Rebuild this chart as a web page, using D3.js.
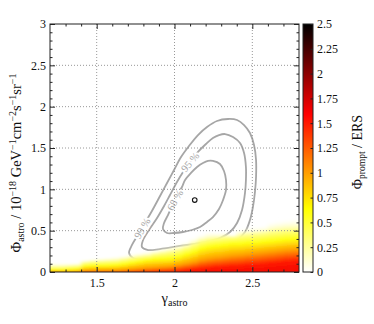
<!DOCTYPE html>
<html>
<head>
<meta charset="utf-8">
<script src="https://cdn.jsdelivr.net/npm/d3@7"></script>
<style>
  body { margin: 0; background: #fff; }
  text { font-family: "Liberation Serif", "DejaVu Serif", serif; }
</style>
</head>
<body>
<div id="chart"></div>
<script>
// ---- data ----
// heat map columns (gamma bin edges) and, for each column, the flux where Phi_prompt/ERS falls to a level
const gammaEdges = [1.2, 1.25, 1.3, 1.35, 1.4, 1.45, 1.5, 1.55, 1.6, 1.65, 1.7, 1.75, 1.8, 1.85, 1.9, 1.95,
  2.0, 2.05, 2.1, 2.15, 2.2, 2.25, 2.3, 2.35, 2.4, 2.45, 2.5, 2.55, 2.6, 2.65, 2.7, 2.75, 2.8];
const baseValue = 1.65; // value at Phi_astro = 0
const lvl150 = [0.012, 0.012, 0.012, 0.014, 0.022, 0.024, 0.024, 0.025, 0.025, 0.027, 0.028, 0.03, 0.032, 0.035, 0.038, 0.042,
  0.05, 0.06, 0.07, 0.08, 0.088, 0.095, 0.1, 0.105, 0.11, 0.12, 0.125, 0.13, 0.14, 0.15, 0.16, 0.165];
const lvl100 = [0.03, 0.03, 0.03, 0.033, 0.05, 0.052, 0.053, 0.054, 0.055, 0.06, 0.068, 0.075, 0.082, 0.088, 0.094, 0.1,
  0.115, 0.13, 0.15, 0.175, 0.19, 0.2, 0.21, 0.22, 0.23, 0.24, 0.25, 0.26, 0.27, 0.28, 0.29, 0.295];
const lvl060 = [0.055, 0.055, 0.058, 0.06, 0.09, 0.095, 0.098, 0.1, 0.105, 0.115, 0.13, 0.145, 0.16, 0.17, 0.175, 0.18,
  0.2, 0.23, 0.26, 0.3, 0.32, 0.33, 0.34, 0.35, 0.355, 0.365, 0.37, 0.38, 0.39, 0.4, 0.41, 0.415];
const lvl030 = [0.075, 0.075, 0.08, 0.085, 0.12, 0.13, 0.135, 0.14, 0.145, 0.16, 0.175, 0.19, 0.2, 0.22, 0.235, 0.25,
  0.27, 0.3, 0.34, 0.38, 0.4, 0.41, 0.42, 0.42, 0.44, 0.45, 0.46, 0.47, 0.49, 0.5, 0.51, 0.515];
const lvl000 = [0.12, 0.12, 0.12, 0.12, 0.16, 0.17, 0.18, 0.19, 0.2, 0.21, 0.23, 0.245, 0.26, 0.28, 0.3, 0.32,
  0.35, 0.38, 0.43, 0.47, 0.5, 0.49, 0.49, 0.46, 0.53, 0.55, 0.56, 0.57, 0.62, 0.64, 0.65, 0.66];

// confidence contours [gamma, Phi_astro]
const contour68 = [[2.247,1.343],[2.292,1.306],[2.318,1.222],[2.331,1.113],[2.331,0.992],[2.312,0.871],[2.286,0.762],
  [2.247,0.665],[2.209,0.605],[2.164,0.544],[2.112,0.508],[2.055,0.484],[1.997,0.472],[1.952,0.472],[1.926,0.520],
  [1.933,0.593],[1.958,0.689],[1.990,0.823],[2.023,0.944],[2.048,1.028],[2.068,1.113],[2.106,1.198],[2.145,1.270],
  [2.183,1.318],[2.215,1.343]];
const contour95 = [[2.325,1.669],[2.376,1.633],[2.421,1.560],[2.447,1.439],[2.459,1.270],[2.459,1.113],[2.453,0.956],
  [2.434,0.750],[2.402,0.593],[2.357,0.484],[2.292,0.411],[2.164,0.351],[2.035,0.315],[1.907,0.278],[1.830,0.266],
  [1.791,0.302],[1.798,0.387],[1.836,0.508],[1.888,0.653],[1.933,0.798],[1.971,0.931],[2.016,1.089],[2.055,1.210],
  [2.100,1.331],[2.151,1.452],[2.202,1.548],[2.247,1.621],[2.286,1.657]];
const contour99 = [[2.344,1.851],[2.402,1.839],[2.447,1.778],[2.485,1.681],[2.511,1.536],[2.524,1.355],[2.524,1.149],
  [2.517,0.968],[2.504,0.786],[2.485,0.629],[2.453,0.484],[2.389,0.363],[2.260,0.266],[2.100,0.206],[1.939,0.169],
  [1.810,0.157],[1.733,0.169],[1.708,0.230],[1.727,0.327],[1.765,0.448],[1.810,0.593],[1.855,0.738],[1.907,0.919],
  [1.952,1.077],[1.997,1.234],[2.042,1.391],[2.093,1.524],[2.151,1.657],[2.209,1.754],[2.273,1.827]];
const contourLabels = ["68 %", "95 %", "99 %"];
const labelPos = [[2.003, 0.87], [2.100, 1.331], [1.792, 0.53]];
const labelAngle = [-60, -50, -60];
const bestFit = [2.13, 0.87];

// ticks
const xTicks = [1.5, 2, 2.5];
const xTickLabels = ["1.5", "2", "2.5"];
const xMinor = [1.3, 1.4, 1.6, 1.7, 1.8, 1.9, 2.1, 2.2, 2.3, 2.4, 2.6, 2.7];
const yTicks = [0, 0.5, 1, 1.5, 2, 2.5, 3];
const yTickLabels = ["0", "0.5", "1", "1.5", "2", "2.5", "3"];
const yMinor = [0.1, 0.2, 0.3, 0.4, 0.6, 0.7, 0.8, 0.9, 1.1, 1.2, 1.3, 1.4, 1.6, 1.7, 1.8, 1.9, 2.1, 2.2, 2.3, 2.4, 2.6, 2.7, 2.8, 2.9];
const cTicks = [0, 0.25, 0.5, 0.75, 1, 1.25, 1.5, 1.75, 2, 2.25, 2.5];
const cTickLabels = ["0", "0.25", "0.5", "0.75", "1", "1.25", "1.5", "1.75", "2", "2.25", "2.5"];

// ---- layout ----
const width = 374, height = 324;
const plotL = 50, plotR = 299, plotT = 24, plotB = 272;
const barL = 303, barR = 313;

const x = d3.scaleLinear().domain([1.2, 2.8]).range([plotL, plotR]);
const y = d3.scaleLinear().domain([0, 3]).range([plotB, plotT]);
const cy = d3.scaleLinear().domain([0, 2.5]).range([plotB, plotT]);
// reversed "hot" colour map
const cmapDomain = [0, 0.635, 1.59, 2.5];
const color = d3.scaleLinear().domain(cmapDomain).range(["#ffffff", "#ffff00", "#ff0000", "#000000"]).clamp(true);

const svg = d3.select("#chart").append("svg").attr("width", width).attr("height", height);
const defs = svg.append("defs");
defs.append("clipPath").attr("id", "plotclip").append("rect")
  .attr("x", plotL).attr("y", plotT).attr("width", plotR - plotL).attr("height", plotB - plotT);
defs.append("filter").attr("id", "soft").attr("x", "-5%").attr("y", "-5%").attr("width", "110%").attr("height", "110%")
  .append("feGaussianBlur").attr("stdDeviation", "2.2 0.8");

const gPlot = svg.append("g").attr("clip-path", "url(#plotclip)");

// contours (drawn under the heat map)
const line = d3.line().x(d => x(d[0])).y(d => y(d[1])).curve(d3.curveCatmullRomClosed.alpha(0.5));
[contour68, contour95, contour99].forEach(c => {
  gPlot.append("path").attr("d", line(c)).attr("fill", "none")
    .attr("stroke", "#a6a6a6").attr("stroke-width", 1.8);
});
contourLabels.forEach((t, i) => {
  gPlot.append("text")
    .attr("transform", `translate(${x(labelPos[i][0])},${y(labelPos[i][1])}) rotate(${labelAngle[i]})`)
    .attr("text-anchor", "middle").attr("dy", "0.35em")
    .style("font-size", "10.5px").attr("fill", "#a6a6a6")
    .attr("stroke", "#fff").attr("stroke-width", 4).attr("paint-order", "stroke")
    .text(t);
});

// heat map columns
const levels = [1.5, 1.0, 0.6, 0.3, 0];
const lvlArrays = [lvl150, lvl100, lvl060, lvl030, lvl000];
const gHeat = gPlot.append("g").attr("filter", "url(#soft)");
const nCols = gammaEdges.length - 1;
for (let i = 0; i < nCols; i++) {
  const top = lvl000[i];
  const grad = defs.append("linearGradient").attr("id", "col" + i)
    .attr("x1", 0).attr("y1", 1).attr("x2", 0).attr("y2", 0);
  grad.append("stop").attr("offset", 0).attr("stop-color", color(baseValue));
  levels.forEach((v, k) => {
    grad.append("stop").attr("offset", lvlArrays[k][i] / top)
      .attr("stop-color", color(v)).attr("stop-opacity", v === 0 ? 0 : 1);
  });
  // outer columns run past the frame so the blur doesn't fade at the edges
  const x0 = x(gammaEdges[i]) - (i === 0 ? 8 : 0);
  const x1 = x(gammaEdges[i + 1]) + (i === nCols - 1 ? 8 : 0.6);
  gHeat.append("rect")
    .attr("x", x0).attr("width", x1 - x0)
    .attr("y", y(top)).attr("height", y(0) - y(top) + 4)
    .attr("fill", `url(#col${i})`);
}

// grid
const grid = svg.append("g").attr("stroke", "#8c8c8c").attr("stroke-width", 0.9).attr("stroke-dasharray", "1,2");
xTicks.forEach(v => grid.append("line").attr("x1", x(v)).attr("x2", x(v)).attr("y1", plotT).attr("y2", plotB));
yTicks.filter(v => v > 0 && v < 3).forEach(v => grid.append("line").attr("x1", plotL).attr("x2", plotR).attr("y1", y(v)).attr("y2", y(v)));

// best fit marker
svg.append("circle").attr("cx", x(bestFit[0])).attr("cy", y(bestFit[1])).attr("r", 2.3)
  .attr("fill", "#fff").attr("stroke", "#111").attr("stroke-width", 1.1);

// axes
function styleAxis(g) {
  g.select(".domain").remove();
  g.selectAll(".tick line").attr("stroke", "#222");
  g.selectAll("text").style("font-size", "12px").attr("fill", "#111");
}
svg.append("g").attr("transform", `translate(0,${plotB})`)
  .call(d3.axisBottom(x).tickValues(xTicks).tickSize(-5).tickPadding(6).tickFormat((d, i) => xTickLabels[i])).call(styleAxis);
svg.append("g").attr("transform", `translate(0,${plotB})`)
  .call(d3.axisBottom(x).tickValues(xMinor).tickSize(-2.5).tickFormat("")).call(styleAxis);
svg.append("g").attr("transform", `translate(0,${plotT})`)
  .call(d3.axisTop(x).tickValues(xTicks).tickSize(-5).tickFormat("")).call(styleAxis);
svg.append("g").attr("transform", `translate(0,${plotT})`)
  .call(d3.axisTop(x).tickValues(xMinor).tickSize(-2.5).tickFormat("")).call(styleAxis);
svg.append("g").attr("transform", `translate(${plotL},0)`)
  .call(d3.axisLeft(y).tickValues(yTicks).tickSize(-5).tickPadding(4).tickFormat((d, i) => yTickLabels[i])).call(styleAxis);
svg.append("g").attr("transform", `translate(${plotL},0)`)
  .call(d3.axisLeft(y).tickValues(yMinor).tickSize(-2.5).tickFormat("")).call(styleAxis);
svg.append("g").attr("transform", `translate(${plotR},0)`)
  .call(d3.axisRight(y).tickValues(yTicks).tickSize(-5).tickFormat("")).call(styleAxis);
svg.append("g").attr("transform", `translate(${plotR},0)`)
  .call(d3.axisRight(y).tickValues(yMinor).tickSize(-2.5).tickFormat("")).call(styleAxis);

svg.append("rect").attr("x", plotL).attr("y", plotT).attr("width", plotR - plotL).attr("height", plotB - plotT)
  .attr("fill", "none").attr("stroke", "#222").attr("stroke-width", 1);

// colour bar
const cgrad = defs.append("linearGradient").attr("id", "cbar").attr("x1", 0).attr("y1", 1).attr("x2", 0).attr("y2", 0);
cmapDomain.forEach(v => cgrad.append("stop").attr("offset", v / 2.5).attr("stop-color", color(v)));
svg.append("rect").attr("x", barL).attr("y", plotT).attr("width", barR - barL).attr("height", plotB - plotT)
  .attr("fill", "url(#cbar)").attr("stroke", "#222").attr("stroke-width", 1);
svg.append("g").attr("transform", `translate(${barR},0)`)
  .call(d3.axisRight(cy).tickValues(cTicks).tickSize(-2.5).tickPadding(4).tickFormat((d, i) => cTickLabels[i])).call(styleAxis);

// axis titles
function richText(g, parts, main, small) {
  let shift = 0;
  parts.forEach(([t, kind]) => {
    const target = kind === "sub" ? 3 : kind === "sup" ? -5 : 0;
    g.append("tspan").attr("dy", target - shift)
      .style("font-size", kind === "main" ? main : small).text(t);
    shift = target;
  });
}
const yTitle = svg.append("text").attr("transform", "translate(21,163) rotate(-90)")
  .attr("text-anchor", "middle").attr("fill", "#111");
richText(yTitle, [["Φ", "main"], ["astro", "sub"], [" / 10", "main"], ["−18", "sup"], [" GeV", "main"],
  ["−1", "sup"], ["cm", "main"], ["−2", "sup"], ["s", "main"], ["−1", "sup"], ["sr", "main"], ["−1", "sup"]], "14.5px", "10px");

const xTitle = svg.append("text").attr("x", x(2)).attr("y", 303).attr("text-anchor", "middle").attr("fill", "#111");
richText(xTitle, [["γ", "main"], ["astro", "sub"]], "14.5px", "10px");

const cTitle = svg.append("text").attr("transform", "translate(362,152) rotate(-90)")
  .attr("text-anchor", "middle").attr("fill", "#111");
richText(cTitle, [["Φ", "main"], ["prompt", "sub"], [" / ERS", "main"]], "14px", "9.5px");
</script>
</body>
</html>
